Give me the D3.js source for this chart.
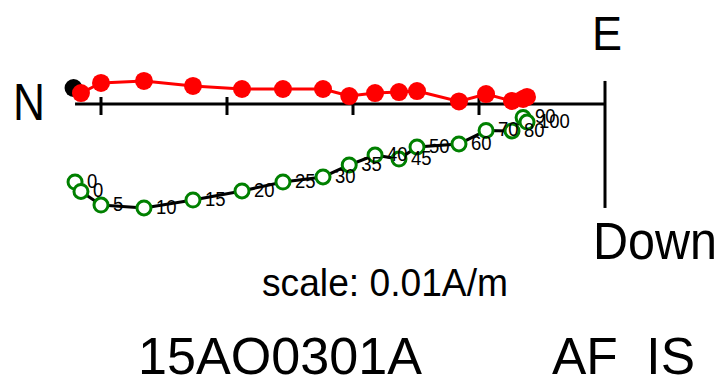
<!DOCTYPE html>
<html>
<head>
<meta charset="utf-8">
<script src="https://cdn.jsdelivr.net/npm/d3@7"></script>
<style>
  html, body { margin: 0; padding: 0; background: #fff; }
  svg { display: block; }
  text { font-family: "Liberation Sans", Arial, Helvetica, sans-serif; fill: #000; }
</style>
</head>
<body>
<svg id="chart" width="727" height="381"></svg>
<script>
// Demagnetization steps (AF, mT)
const steps = ["0","0","5","10","15","20","25","30","35","40","45","50","60","70","80","90","100"];
// North component (mA/m)
const north = [42.06,41.59,40.0,36.59,32.7,28.81,25.56,22.38,20.3,18.25,16.35,14.92,11.59,9.44,7.38,6.5,6.19];
// East component (mA/m) – horizontal projection
const east = [1.27,0.87,1.67,1.83,1.43,1.19,1.19,1.19,0.63,0.87,0.95,1.03,0.20,0.79,0.24,0.40,0.56];
// Down component (mA/m) – vertical projection
const down = [6.19,6.94,8.02,8.25,7.62,6.90,6.19,5.79,4.84,4.05,4.37,3.41,3.17,2.10,2.14,1.07,1.43];
// Axis ticks (mA/m) = 0.01 A/m per tick
const tickValues = [10, 20, 30, 40];

const svg = d3.select("#chart");
const pxPerUnit = 12.6;
const x0 = 605, y0 = 104;
const x = d3.scaleLinear().domain([0, 1]).range([x0, x0 - pxPerUnit]);
const y = d3.scaleLinear().domain([0, 1]).range([y0, y0 + pxPerUnit]);

const nMax = d3.max(north);
const eMax = d3.max(east);
const dMax = d3.max(down);

// axes
svg.append("line").attr("x1", x(nMax)).attr("x2", x(0)).attr("y1", y(0)).attr("y2", y(0))
  .attr("stroke", "#000").attr("stroke-width", 3);
svg.append("line").attr("x1", x(0)).attr("x2", x(0)).attr("y1", y(-eMax)).attr("y2", y(dMax))
  .attr("stroke", "#000").attr("stroke-width", 3);
svg.selectAll("line.tick").data(tickValues).enter().append("line")
  .attr("class", "tick")
  .attr("x1", d => x(d)).attr("x2", d => x(d))
  .attr("y1", y(0) - 7).attr("y2", y(0) + 11)
  .attr("stroke", "#000").attr("stroke-width", 3);

const idx = d3.range(steps.length);

const lineV = d3.line().x(i => x(north[i])).y(i => y(down[i]));
svg.append("path").attr("d", lineV(idx)).attr("fill", "none")
  .attr("stroke", "#000").attr("stroke-width", 3);

const lineH = d3.line().x(i => x(north[i])).y(i => y(-east[i]));
svg.append("path").attr("d", lineH(idx)).attr("fill", "none")
  .attr("stroke", "#ff0000").attr("stroke-width", 3);

svg.selectAll("circle.h").data(idx).enter().append("circle")
  .attr("class", "h")
  .attr("cx", i => x(north[i]) - (i === 0 ? 1.5 : 0))
  .attr("cy", i => y(-east[i]))
  .attr("r", 9)
  .attr("fill", i => i === 0 ? "#000" : "#ff0000");

svg.selectAll("circle.v").data(idx).enter().append("circle")
  .attr("class", "v")
  .attr("cx", i => x(north[i]))
  .attr("cy", i => y(down[i]))
  .attr("r", 7)
  .attr("fill", "#fff")
  .attr("stroke", "#008000")
  .attr("stroke-width", 3);

// step labels
svg.selectAll("text.step").data(idx).enter().append("text")
  .attr("class", "step")
  .attr("transform", i => `translate(${x(north[i]) + 12},${y(down[i]) + 6}) scale(0.88,1)`)
  .attr("font-size", 21)
  .text(i => steps[i]);

// big labels
function label(txt, xx, yy, fs, len) {
  svg.append("text").attr("x", xx).attr("y", yy).attr("font-size", fs)
    .attr("textLength", len).attr("lengthAdjust", "spacingAndGlyphs")
    .style("white-space", "pre").text(txt);
}
label("N", 13, 120, 51, 32);
label("E", 592, 50, 48, 30);
label("Down", 593, 259, 51, 124);
label("scale: 0.01A/m", 262, 296, 39, 246);
label("15AO0301A", 138, 374, 52, 284);
label("AF  IS", 552, 374, 52, 143);
</script>
</body>
</html>
